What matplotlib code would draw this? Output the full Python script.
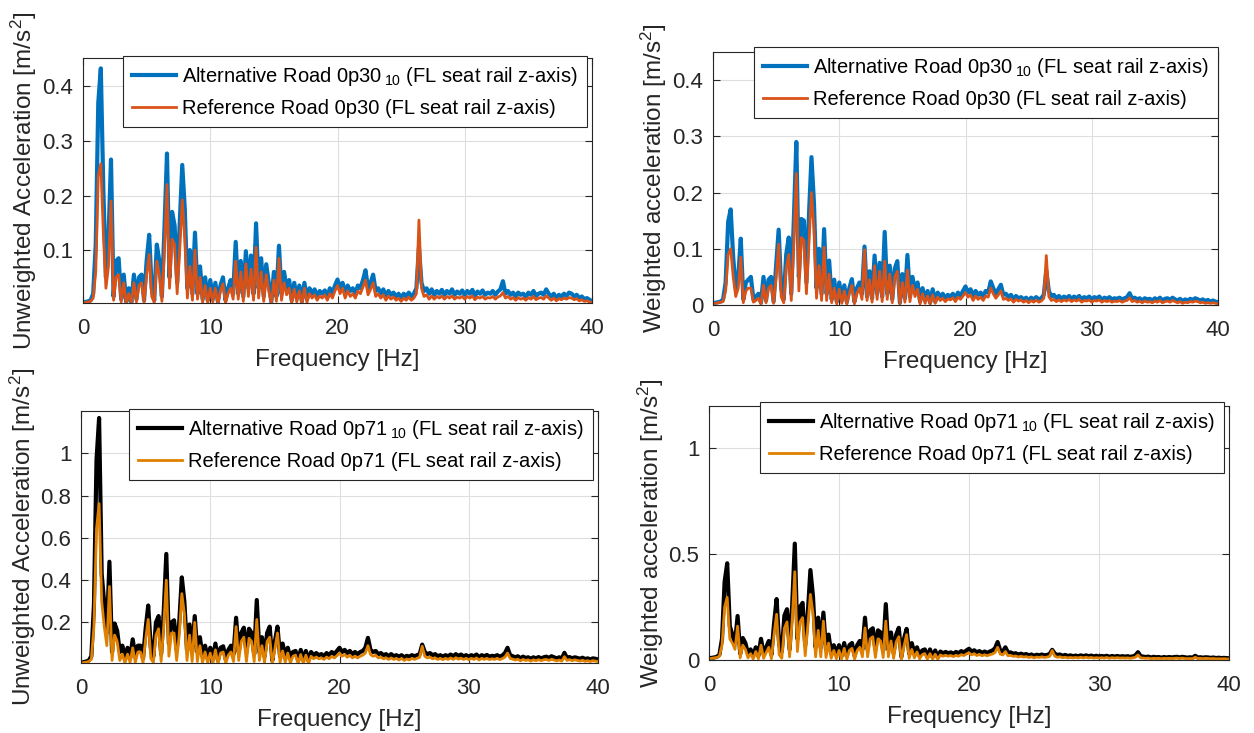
import numpy as np
import matplotlib
matplotlib.use("Agg")
import matplotlib.pyplot as plt

plt.rcParams['font.family'] = ['Liberation Sans', 'DejaVu Sans']
plt.rcParams['mathtext.fontset'] = 'custom'
plt.rcParams['mathtext.rm'] = 'Liberation Sans'
plt.rcParams['mathtext.it'] = 'Liberation Sans:italic'

# ---------------- data ----------------
# frequency grid [Hz], 0 .. 40 Hz in 0.2 Hz steps
freq = np.round(np.arange(201) * 0.2, 1)

# Unweighted, road 0p30
ua_0p30_alt = [
    0.004, 0.005, 0.006, 0.008, 0.020, 0.110, 0.370, 0.433, 0.210, 0.050,
    0.120, 0.266, 0.015, 0.080, 0.085, 0.010, 0.055, 0.005, 0.030, 0.004,
    0.055, 0.010, 0.050, 0.055, 0.008, 0.080, 0.128, 0.030, 0.008, 0.110,
    0.080, 0.015, 0.140, 0.277, 0.050, 0.170, 0.145, 0.040, 0.150, 0.256,
    0.175, 0.030, 0.100, 0.020, 0.132, 0.020, 0.070, 0.010, 0.050, 0.008,
    0.045, 0.010, 0.040, 0.005, 0.035, 0.050, 0.008, 0.030, 0.045, 0.020,
    0.115, 0.020, 0.080, 0.015, 0.098, 0.030, 0.090, 0.020, 0.149, 0.030,
    0.085, 0.015, 0.074, 0.040, 0.005, 0.060, 0.015, 0.108, 0.020, 0.060,
    0.030, 0.045, 0.008, 0.040, 0.012, 0.035, 0.006, 0.040, 0.010, 0.030,
    0.020, 0.028, 0.015, 0.025, 0.020, 0.026, 0.015, 0.030, 0.020, 0.035,
    0.046, 0.030, 0.040, 0.020, 0.035, 0.025, 0.030, 0.020, 0.035, 0.030,
    0.045, 0.063, 0.030, 0.040, 0.055, 0.025, 0.030, 0.020, 0.028, 0.015,
    0.025, 0.018, 0.022, 0.015, 0.020, 0.012, 0.020, 0.015, 0.022, 0.015,
    0.020, 0.030, 0.105, 0.040, 0.025, 0.030, 0.020, 0.028, 0.018, 0.025,
    0.020, 0.027, 0.018, 0.025, 0.020, 0.028, 0.018, 0.024, 0.020, 0.026,
    0.018, 0.025, 0.020, 0.027, 0.016, 0.024, 0.020, 0.026, 0.018, 0.022,
    0.020, 0.025, 0.018, 0.024, 0.028, 0.043, 0.020, 0.025, 0.018, 0.022,
    0.015, 0.022, 0.018, 0.020, 0.014, 0.022, 0.018, 0.025, 0.016, 0.020,
    0.022, 0.018, 0.028, 0.020, 0.015, 0.020, 0.012, 0.018, 0.015, 0.020,
    0.016, 0.022, 0.020, 0.015, 0.018, 0.012, 0.015, 0.010, 0.012, 0.009,
    0.006]
ua_0p30_ref = [
    0.003, 0.004, 0.005, 0.006, 0.012, 0.060, 0.236, 0.258, 0.130, 0.030,
    0.070, 0.190, 0.008, 0.050, 0.055, 0.005, 0.040, 0.003, 0.020, 0.002,
    0.040, 0.005, 0.035, 0.040, 0.004, 0.055, 0.092, 0.015, 0.004, 0.080,
    0.055, 0.006, 0.100, 0.220, 0.030, 0.120, 0.110, 0.020, 0.100, 0.192,
    0.120, 0.012, 0.070, 0.008, 0.100, 0.010, 0.050, 0.004, 0.035, 0.003,
    0.030, 0.005, 0.030, 0.002, 0.025, 0.038, 0.003, 0.020, 0.030, 0.010,
    0.080, 0.010, 0.060, 0.006, 0.075, 0.015, 0.065, 0.008, 0.105, 0.012,
    0.060, 0.006, 0.055, 0.025, 0.002, 0.045, 0.006, 0.085, 0.008, 0.040,
    0.018, 0.030, 0.003, 0.028, 0.005, 0.025, 0.002, 0.030, 0.004, 0.020,
    0.012, 0.018, 0.008, 0.016, 0.012, 0.018, 0.008, 0.020, 0.012, 0.025,
    0.035, 0.020, 0.030, 0.012, 0.025, 0.015, 0.020, 0.012, 0.025, 0.020,
    0.032, 0.045, 0.018, 0.028, 0.040, 0.015, 0.020, 0.012, 0.018, 0.008,
    0.016, 0.010, 0.014, 0.008, 0.012, 0.006, 0.012, 0.008, 0.014, 0.008,
    0.012, 0.020, 0.155, 0.030, 0.015, 0.018, 0.010, 0.016, 0.010, 0.015,
    0.012, 0.016, 0.010, 0.015, 0.012, 0.016, 0.010, 0.014, 0.012, 0.015,
    0.010, 0.015, 0.012, 0.016, 0.009, 0.014, 0.012, 0.015, 0.010, 0.013,
    0.012, 0.015, 0.010, 0.014, 0.016, 0.022, 0.012, 0.015, 0.010, 0.013,
    0.008, 0.013, 0.010, 0.012, 0.008, 0.013, 0.010, 0.015, 0.009, 0.012,
    0.013, 0.010, 0.016, 0.012, 0.008, 0.012, 0.007, 0.011, 0.009, 0.012,
    0.010, 0.013, 0.012, 0.009, 0.011, 0.007, 0.009, 0.006, 0.007, 0.005,
    0.004]

# Weighted, road 0p30
wa_0p30_alt = [
    0.003, 0.004, 0.005, 0.006, 0.010, 0.040, 0.148, 0.170, 0.085, 0.030,
    0.050, 0.118, 0.010, 0.040, 0.045, 0.050, 0.010, 0.015, 0.020, 0.004,
    0.050, 0.008, 0.045, 0.050, 0.006, 0.070, 0.134, 0.030, 0.010, 0.090,
    0.120, 0.020, 0.150, 0.290, 0.050, 0.153, 0.150, 0.040, 0.160, 0.263,
    0.180, 0.030, 0.100, 0.020, 0.135, 0.020, 0.079, 0.010, 0.045, 0.006,
    0.040, 0.008, 0.035, 0.005, 0.030, 0.046, 0.006, 0.030, 0.040, 0.020,
    0.104, 0.015, 0.060, 0.012, 0.088, 0.020, 0.075, 0.015, 0.130, 0.020,
    0.070, 0.010, 0.065, 0.078, 0.004, 0.055, 0.012, 0.089, 0.015, 0.050,
    0.025, 0.040, 0.006, 0.030, 0.008, 0.025, 0.004, 0.028, 0.006, 0.022,
    0.015, 0.020, 0.012, 0.018, 0.015, 0.020, 0.012, 0.022, 0.016, 0.025,
    0.033, 0.022, 0.028, 0.015, 0.025, 0.018, 0.022, 0.015, 0.025, 0.022,
    0.042, 0.030, 0.020, 0.028, 0.036, 0.018, 0.020, 0.014, 0.018, 0.010,
    0.016, 0.012, 0.014, 0.010, 0.013, 0.008, 0.013, 0.010, 0.014, 0.010,
    0.012, 0.018, 0.061, 0.025, 0.015, 0.018, 0.012, 0.016, 0.011, 0.015,
    0.012, 0.016, 0.011, 0.015, 0.012, 0.016, 0.010, 0.014, 0.012, 0.015,
    0.010, 0.014, 0.012, 0.015, 0.009, 0.013, 0.011, 0.014, 0.010, 0.012,
    0.011, 0.013, 0.010, 0.012, 0.014, 0.021, 0.011, 0.013, 0.010, 0.012,
    0.008, 0.012, 0.010, 0.011, 0.008, 0.012, 0.009, 0.013, 0.008, 0.011,
    0.012, 0.009, 0.013, 0.010, 0.008, 0.011, 0.007, 0.010, 0.008, 0.011,
    0.009, 0.012, 0.010, 0.008, 0.010, 0.007, 0.009, 0.006, 0.008, 0.006,
    0.005]
wa_0p30_ref = [
    0.002, 0.003, 0.004, 0.005, 0.006, 0.025, 0.090, 0.100, 0.050, 0.015,
    0.030, 0.085, 0.004, 0.025, 0.030, 0.030, 0.005, 0.008, 0.012, 0.002,
    0.035, 0.004, 0.030, 0.035, 0.003, 0.050, 0.108, 0.015, 0.004, 0.065,
    0.090, 0.008, 0.110, 0.234, 0.025, 0.120, 0.115, 0.020, 0.110, 0.200,
    0.135, 0.012, 0.070, 0.008, 0.103, 0.008, 0.055, 0.004, 0.030, 0.002,
    0.028, 0.003, 0.025, 0.002, 0.020, 0.035, 0.002, 0.020, 0.030, 0.010,
    0.098, 0.008, 0.045, 0.005, 0.070, 0.010, 0.060, 0.006, 0.078, 0.010,
    0.055, 0.004, 0.050, 0.060, 0.002, 0.040, 0.005, 0.062, 0.006, 0.035,
    0.015, 0.028, 0.002, 0.020, 0.003, 0.016, 0.002, 0.018, 0.003, 0.014,
    0.008, 0.012, 0.006, 0.011, 0.009, 0.013, 0.006, 0.014, 0.010, 0.016,
    0.022, 0.014, 0.018, 0.008, 0.016, 0.010, 0.014, 0.008, 0.016, 0.014,
    0.030, 0.020, 0.012, 0.018, 0.025, 0.010, 0.012, 0.008, 0.011, 0.005,
    0.010, 0.007, 0.009, 0.005, 0.008, 0.004, 0.008, 0.005, 0.009, 0.005,
    0.007, 0.012, 0.088, 0.015, 0.008, 0.010, 0.006, 0.009, 0.006, 0.009,
    0.007, 0.010, 0.006, 0.009, 0.007, 0.010, 0.005, 0.008, 0.007, 0.009,
    0.005, 0.008, 0.007, 0.009, 0.005, 0.008, 0.006, 0.008, 0.005, 0.007,
    0.006, 0.008, 0.005, 0.007, 0.008, 0.013, 0.006, 0.008, 0.005, 0.007,
    0.004, 0.007, 0.005, 0.006, 0.004, 0.007, 0.005, 0.008, 0.004, 0.006,
    0.007, 0.005, 0.008, 0.006, 0.004, 0.006, 0.003, 0.005, 0.004, 0.006,
    0.005, 0.007, 0.006, 0.004, 0.005, 0.003, 0.004, 0.003, 0.004, 0.003,
    0.002]

# Unweighted, road 0p71
ua_0p71_alt = [
    0.010, 0.012, 0.015, 0.020, 0.040, 0.280, 0.968, 1.167, 0.430, 0.290,
    0.150, 0.487, 0.060, 0.195, 0.160, 0.060, 0.090, 0.030, 0.080, 0.030,
    0.120, 0.040, 0.090, 0.090, 0.030, 0.170, 0.280, 0.080, 0.040, 0.200,
    0.230, 0.050, 0.250, 0.524, 0.100, 0.200, 0.210, 0.070, 0.200, 0.413,
    0.297, 0.070, 0.190, 0.060, 0.230, 0.060, 0.130, 0.040, 0.090, 0.030,
    0.080, 0.025, 0.100, 0.020, 0.080, 0.087, 0.025, 0.070, 0.090, 0.050,
    0.222, 0.060, 0.150, 0.175, 0.060, 0.170, 0.150, 0.050, 0.306, 0.060,
    0.130, 0.040, 0.150, 0.180, 0.020, 0.110, 0.180, 0.040, 0.100, 0.040,
    0.080, 0.030, 0.060, 0.065, 0.020, 0.070, 0.025, 0.065, 0.020, 0.060,
    0.045, 0.055, 0.045, 0.050, 0.040, 0.055, 0.045, 0.060, 0.050, 0.065,
    0.080, 0.060, 0.070, 0.055, 0.065, 0.050, 0.060, 0.050, 0.060, 0.065,
    0.080, 0.127, 0.070, 0.060, 0.065, 0.050, 0.055, 0.045, 0.050, 0.040,
    0.050, 0.040, 0.045, 0.038, 0.045, 0.035, 0.042, 0.038, 0.045, 0.040,
    0.045, 0.050, 0.095, 0.060, 0.050, 0.055, 0.045, 0.050, 0.040, 0.045,
    0.038, 0.045, 0.040, 0.048, 0.040, 0.050, 0.042, 0.048, 0.040, 0.045,
    0.038, 0.045, 0.040, 0.048, 0.035, 0.045, 0.040, 0.046, 0.038, 0.042,
    0.040, 0.045, 0.038, 0.044, 0.055, 0.080, 0.045, 0.040, 0.035, 0.040,
    0.030, 0.038, 0.032, 0.035, 0.028, 0.035, 0.030, 0.036, 0.030, 0.035,
    0.038, 0.032, 0.040, 0.035, 0.030, 0.035, 0.028, 0.056, 0.032, 0.036,
    0.030, 0.035, 0.032, 0.028, 0.033, 0.027, 0.030, 0.025, 0.030, 0.028,
    0.025]
ua_0p71_ref = [
    0.008, 0.010, 0.012, 0.015, 0.025, 0.180, 0.643, 0.762, 0.300, 0.180,
    0.090, 0.370, 0.020, 0.140, 0.110, 0.020, 0.050, 0.008, 0.050, 0.010,
    0.080, 0.010, 0.060, 0.060, 0.008, 0.120, 0.214, 0.030, 0.010, 0.140,
    0.170, 0.015, 0.180, 0.400, 0.040, 0.150, 0.150, 0.020, 0.140, 0.336,
    0.240, 0.020, 0.140, 0.015, 0.200, 0.015, 0.090, 0.010, 0.060, 0.008,
    0.055, 0.006, 0.070, 0.005, 0.055, 0.060, 0.006, 0.045, 0.060, 0.015,
    0.180, 0.020, 0.110, 0.130, 0.015, 0.125, 0.110, 0.015, 0.214, 0.020,
    0.090, 0.010, 0.110, 0.130, 0.004, 0.075, 0.150, 0.010, 0.065, 0.012,
    0.055, 0.008, 0.040, 0.045, 0.005, 0.048, 0.006, 0.045, 0.005, 0.040,
    0.028, 0.036, 0.028, 0.032, 0.025, 0.036, 0.028, 0.040, 0.032, 0.042,
    0.055, 0.040, 0.048, 0.035, 0.045, 0.032, 0.040, 0.032, 0.040, 0.045,
    0.055, 0.090, 0.048, 0.040, 0.045, 0.032, 0.036, 0.028, 0.032, 0.025,
    0.032, 0.025, 0.030, 0.022, 0.030, 0.020, 0.027, 0.022, 0.030, 0.025,
    0.030, 0.035, 0.087, 0.040, 0.032, 0.036, 0.028, 0.032, 0.025, 0.030,
    0.024, 0.030, 0.025, 0.032, 0.025, 0.033, 0.026, 0.031, 0.025, 0.030,
    0.024, 0.030, 0.025, 0.032, 0.022, 0.030, 0.025, 0.030, 0.024, 0.028,
    0.025, 0.030, 0.024, 0.029, 0.036, 0.055, 0.030, 0.026, 0.022, 0.026,
    0.018, 0.025, 0.020, 0.023, 0.017, 0.023, 0.019, 0.024, 0.019, 0.023,
    0.025, 0.020, 0.026, 0.022, 0.018, 0.022, 0.017, 0.038, 0.020, 0.024,
    0.019, 0.023, 0.020, 0.017, 0.021, 0.016, 0.019, 0.015, 0.019, 0.017,
    0.015]

# Weighted, road 0p71
wa_0p71_alt = [
    0.008, 0.010, 0.012, 0.015, 0.025, 0.100, 0.369, 0.457, 0.160, 0.120,
    0.080, 0.208, 0.030, 0.104, 0.080, 0.030, 0.050, 0.020, 0.060, 0.020,
    0.100, 0.030, 0.060, 0.090, 0.025, 0.170, 0.288, 0.070, 0.040, 0.210,
    0.240, 0.050, 0.260, 0.550, 0.100, 0.250, 0.270, 0.070, 0.220, 0.425,
    0.300, 0.060, 0.200, 0.060, 0.224, 0.050, 0.120, 0.030, 0.070, 0.025,
    0.070, 0.020, 0.080, 0.018, 0.070, 0.080, 0.020, 0.070, 0.090, 0.050,
    0.200, 0.050, 0.140, 0.150, 0.050, 0.140, 0.130, 0.045, 0.264, 0.050,
    0.130, 0.035, 0.120, 0.152, 0.015, 0.100, 0.147, 0.030, 0.080, 0.030,
    0.060, 0.020, 0.045, 0.050, 0.015, 0.050, 0.015, 0.045, 0.012, 0.040,
    0.032, 0.038, 0.032, 0.036, 0.030, 0.038, 0.032, 0.042, 0.036, 0.045,
    0.053, 0.040, 0.046, 0.036, 0.042, 0.034, 0.040, 0.034, 0.040, 0.045,
    0.055, 0.085, 0.045, 0.040, 0.060, 0.035, 0.036, 0.030, 0.032, 0.026,
    0.030, 0.025, 0.028, 0.022, 0.026, 0.020, 0.025, 0.022, 0.026, 0.022,
    0.024, 0.028, 0.048, 0.030, 0.024, 0.026, 0.020, 0.024, 0.019, 0.022,
    0.018, 0.021, 0.018, 0.022, 0.018, 0.022, 0.018, 0.021, 0.017, 0.020,
    0.016, 0.019, 0.017, 0.020, 0.015, 0.019, 0.016, 0.019, 0.016, 0.018,
    0.016, 0.018, 0.015, 0.017, 0.022, 0.037, 0.018, 0.016, 0.014, 0.016,
    0.012, 0.015, 0.013, 0.014, 0.011, 0.014, 0.012, 0.014, 0.012, 0.014,
    0.015, 0.012, 0.015, 0.013, 0.011, 0.013, 0.011, 0.020, 0.012, 0.013,
    0.011, 0.013, 0.012, 0.010, 0.012, 0.009, 0.011, 0.009, 0.010, 0.009,
    0.008]
wa_0p71_ref = [
    0.006, 0.008, 0.010, 0.012, 0.018, 0.070, 0.250, 0.296, 0.100, 0.080,
    0.050, 0.160, 0.010, 0.070, 0.050, 0.010, 0.030, 0.005, 0.040, 0.006,
    0.070, 0.008, 0.035, 0.060, 0.006, 0.120, 0.216, 0.025, 0.008, 0.150,
    0.180, 0.015, 0.190, 0.417, 0.040, 0.180, 0.200, 0.020, 0.160, 0.310,
    0.220, 0.015, 0.140, 0.015, 0.184, 0.012, 0.080, 0.008, 0.045, 0.006,
    0.045, 0.005, 0.055, 0.004, 0.045, 0.055, 0.005, 0.045, 0.060, 0.015,
    0.152, 0.015, 0.100, 0.110, 0.012, 0.100, 0.090, 0.012, 0.184, 0.015,
    0.090, 0.008, 0.085, 0.110, 0.003, 0.065, 0.120, 0.008, 0.050, 0.010,
    0.038, 0.006, 0.025, 0.030, 0.004, 0.030, 0.004, 0.027, 0.004, 0.024,
    0.018, 0.022, 0.018, 0.021, 0.016, 0.022, 0.018, 0.025, 0.021, 0.028,
    0.034, 0.024, 0.030, 0.021, 0.027, 0.020, 0.025, 0.020, 0.025, 0.028,
    0.035, 0.060, 0.028, 0.024, 0.040, 0.020, 0.022, 0.017, 0.019, 0.014,
    0.018, 0.014, 0.016, 0.012, 0.015, 0.010, 0.014, 0.012, 0.015, 0.012,
    0.014, 0.017, 0.045, 0.018, 0.013, 0.015, 0.011, 0.013, 0.010, 0.012,
    0.010, 0.012, 0.010, 0.013, 0.010, 0.013, 0.010, 0.012, 0.009, 0.011,
    0.009, 0.011, 0.009, 0.012, 0.008, 0.011, 0.009, 0.011, 0.009, 0.010,
    0.009, 0.010, 0.008, 0.010, 0.013, 0.024, 0.010, 0.009, 0.008, 0.009,
    0.006, 0.008, 0.007, 0.008, 0.006, 0.008, 0.007, 0.008, 0.007, 0.008,
    0.009, 0.007, 0.009, 0.007, 0.006, 0.007, 0.006, 0.013, 0.007, 0.008,
    0.006, 0.008, 0.007, 0.006, 0.007, 0.005, 0.006, 0.005, 0.006, 0.005,
    0.004]

xticks = [0, 10, 20, 30, 40]
lbl_alt_0p30 = r'Alternative Road 0p30$\,{}_{10}$ (FL seat rail z-axis)'
lbl_ref_0p30 = 'Reference Road 0p30 (FL seat rail z-axis)'
lbl_alt_0p71 = r'Alternative Road 0p71$\,{}_{10}$ (FL seat rail z-axis)'
lbl_ref_0p71 = 'Reference Road 0p71 (FL seat rail z-axis)'
ylab_unw = r'Unweighted Acceleration [m/s$^2$]'
ylab_w = r'Weighted acceleration [m/s$^2$]'

# ---------------- figure ----------------
W, H = 1254, 733
fig = plt.figure(figsize=(W / 100, H / 100), dpi=100)
DARK = '#262626'


def px_rect(x0, x1, ytop, ybot):
    return [x0 / W, 1 - ybot / H, (x1 - x0) / W, (ybot - ytop) / H]


def panel(rect, alt, ref, c_alt, c_ref, l_alt, l_ref, ylabel, ylim, yticks,
          yticklabels, leg_xy):
    ax = fig.add_axes(rect)
    ax.plot(freq, alt, color=c_alt, lw=3.0, label=l_alt, solid_joinstyle='round')
    ax.plot(freq, ref, color=c_ref, lw=2.0, label=l_ref, solid_joinstyle='round')
    ax.set_xlim(0, 40)
    ax.set_ylim(*ylim)
    ax.set_xticks(xticks)
    ax.set_xticklabels([str(t) for t in xticks])
    ax.set_yticks(yticks)
    ax.set_yticklabels(yticklabels)
    ax.grid(True, color='#dedede', lw=0.8)
    ax.set_axisbelow(True)
    for s in ax.spines.values():
        s.set_color(DARK)
        s.set_linewidth(0.8)
    ax.tick_params(direction='in', top=True, right=True, length=5, width=0.8,
                   colors=DARK, labelsize=16)
    ax.tick_params(axis='y', pad=7)
    ax.tick_params(axis='x', pad=11)
    ax.set_xlabel('Frequency [Hz]', fontsize=17.5, color=DARK, labelpad=7)
    ax.set_ylabel(ylabel, fontsize=17.5, color=DARK, labelpad=2)
    leg = ax.legend(loc='upper right',
                    bbox_to_anchor=(leg_xy[0] / W, 1 - leg_xy[1] / H),
                    bbox_transform=fig.transFigure, borderaxespad=0,
                    fontsize=14.5, fancybox=False, framealpha=1,
                    edgecolor=DARK, handlelength=2.2, handletextpad=0.3,
                    labelspacing=0.55, borderpad=0.45)
    leg.get_frame().set_linewidth(0.8)
    for t in leg.get_texts():
        t.set_color('black')
    return ax


panel(px_rect(83, 592, 58, 303), ua_0p30_alt, ua_0p30_ref, '#0072BD', '#D95319',
      lbl_alt_0p30, lbl_ref_0p30, ylab_unw, (0.003, 0.452),
      [0.1, 0.2, 0.3, 0.4], ['0.1', '0.2', '0.3', '0.4'], (587, 56))
panel(px_rect(713, 1218, 52, 305), wa_0p30_alt, wa_0p30_ref, '#0072BD', '#D95319',
      lbl_alt_0p30, lbl_ref_0p30, ylab_w, (0, 0.45),
      [0, 0.1, 0.2, 0.3, 0.4], ['0', '0.1', '0.2', '0.3', '0.4'], (1218, 47))
panel(px_rect(81, 598, 411, 663), ua_0p71_alt, ua_0p71_ref, 'black', '#E08000',
      lbl_alt_0p71, lbl_ref_0p71, ylab_unw, (0.008, 1.2),
      [0.2, 0.4, 0.6, 0.8, 1.0], ['0.2', '0.4', '0.6', '0.8', '1'], (593, 409))
panel(px_rect(709, 1229, 406, 660), wa_0p71_alt, wa_0p71_ref, 'black', '#E08000',
      lbl_alt_0p71, lbl_ref_0p71, ylab_w, (0, 1.2),
      [0, 0.5, 1.0], ['0', '0.5', '1'], (1224, 402))

fig.savefig('out.png', dpi=100)
